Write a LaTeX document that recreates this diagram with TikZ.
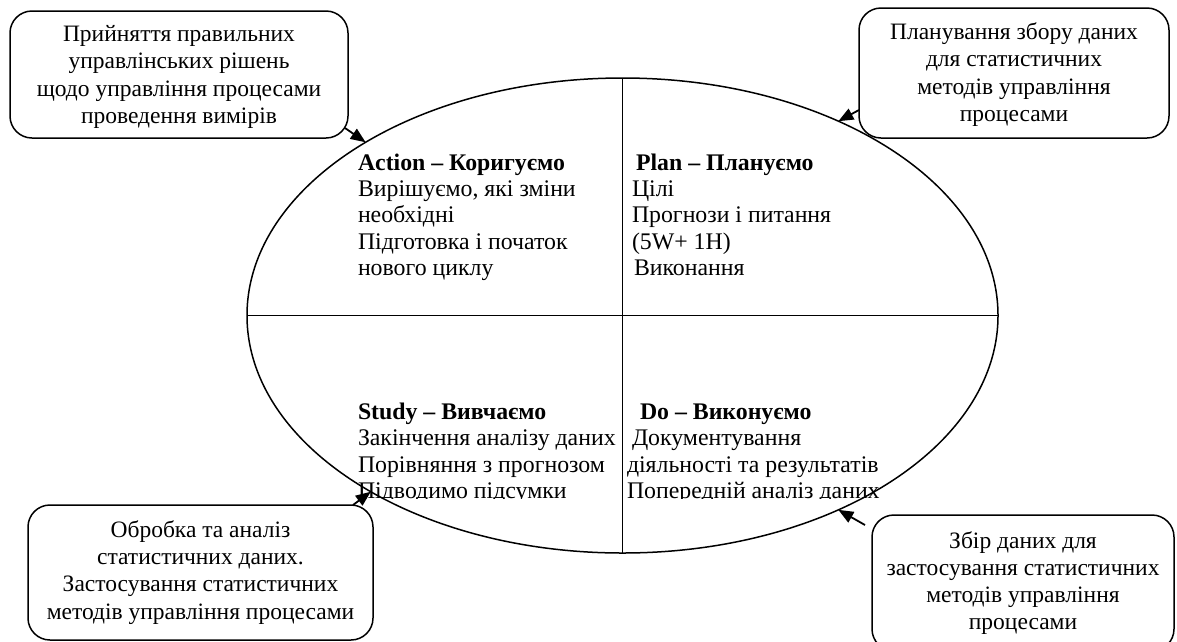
\documentclass[tikz,border=0pt]{standalone}
\usepackage{fontspec}
\setmainfont{Liberation Serif}
\usetikzlibrary{arrows.meta,shapes.geometric}
\tikzset{
  notebox/.style={draw, line width=1.5pt, rounded corners=22pt, inner sep=0pt, outer sep=0pt},
  notetext/.style={align=center, inner sep=0pt, outer sep=0pt,
    font=\fontsize{23.5}{27.2}\selectfont},
  body/.style={align=left, anchor=base west, inner sep=0pt, outer sep=0pt,
    font=\fontsize{23.8}{26.4}\selectfont},
  pointer/.style={-{Triangle[length=15pt,width=12pt]}, line width=1.8pt},
  cyclebox/.style={ellipse, draw, line width=1.5pt, inner sep=0pt, outer sep=0pt,
    minimum width=751pt, minimum height=475pt},
  divider/.style={line width=1.5pt}
}
\begin{document}
\begin{tikzpicture}[x=1pt,y=-1pt]
\useasboundingbox (0,0) rectangle (1177,641);
\clip (0,0) rectangle (1177,641);

% central cycle
\node[cyclebox] (cyc) at (622.5,315.5) {};
\draw[divider] (cyc.north) -- (cyc.south);
\draw[divider] (cyc.west) -- (cyc.east);

% quadrant texts (anchored at the baseline of the last line)
\node[body] (act) at (358,275.6) {\textbf{Action – Коригуємо}\\Вирішуємо, які зміни\\необхідні\\Підготовка і початок\\нового циклу};
\node[body] (pln) at (632,275.6) {\hspace*{4pt}\textbf{Plan – Плануємо}\\Цілі\\Прогнози і питання\\(5W+ 1H)\\\hspace*{2pt}Виконання};
\begin{scope}
\clip (300,380) rectangle (1000,498);
\node[body] (std) at (358,498.5) {\textbf{Study – Вивчаємо}\\Закінчення аналізу даних\\Порівняння з прогнозом\\Підводимо підсумки};
\node[body] (dod) at (627,498.5) {\hspace*{13pt}\textbf{Do – Виконуємо}\\\hspace*{5pt}Документування\\діяльності та результатів\\Попередній аналіз даних};
\end{scope}

% corner notes
\node[notebox, minimum width=338pt, minimum height=127pt] (b1) at (179,74.5) {};
\node[notetext] (t1) at ([yshift=-2.5pt]b1.center)
  {Прийняття правильних\\управлінських рішень\\щодо управління процесами\\проведення вимірів};
\node[notebox, minimum width=310pt, minimum height=130pt] (b2) at (1014,73) {};
\node[notetext] (t2) at ([yshift=-1.5pt]b2.center)
  {Планування збору даних\\для статистичних\\методів управління\\процесами};
\node[notebox, minimum width=345pt, minimum height=135pt] (b3) at (200.5,572.5) {};
\node[notetext] (t3) at ([yshift=0pt]b3.center)
  {Обробка та аналіз\\статистичних даних.\\Застосування статистичних\\методів управління процесами};
\node[notebox, minimum width=302pt, minimum height=136pt] (b4) at (1023,583) {};
\node[notetext] (t4) at ([yshift=0pt]b4.center)
  {Збір даних для\\застосування статистичних\\методів управління\\процесами};

% connectors
\coordinate (s1) at (345,128);
\coordinate (s2) at (859,110);
\coordinate (s3) at (353,505);
\coordinate (s4) at (865,525);
\draw[pointer] (s1) -- (cyc.146.2);
\draw[pointer] (s2) -- (cyc.42.8);
\draw[pointer] (s3) -- (cyc.215.6);
\draw[pointer] (s4) -- (cyc.318.9);
\end{tikzpicture}
\end{document}
